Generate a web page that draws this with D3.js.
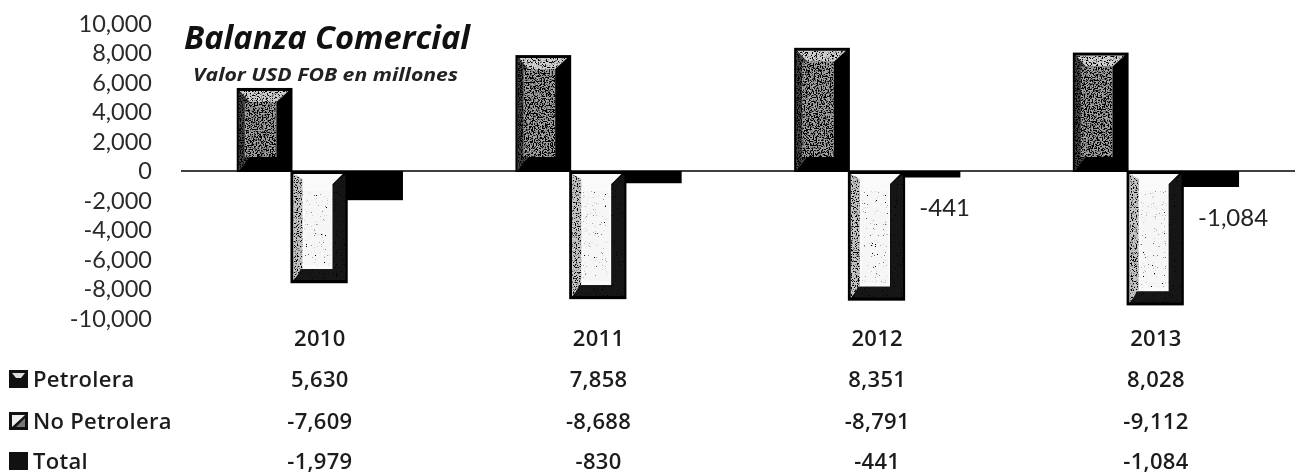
<!DOCTYPE html>
<html><head><meta charset="utf-8">
<script src="https://cdn.jsdelivr.net/npm/d3@7/dist/d3.min.js"></script>
<style>html,body{margin:0;padding:0;background:#fff}svg{display:block;filter:blur(0.35px)}text{font-family:"Open Sans",Lato,sans-serif}</style>
</head><body><svg id="c" width="1295" height="475"></svg>
<script>
const years = ["2010","2011","2012","2013"];
const petrolera = [5630,7858,8351,8028];
const noPetrolera = [-7609,-8688,-8791,-9112];
const total = [-1979,-830,-441,-1084];
const seriesNames = ["Petrolera","No Petrolera","Total"];
const yTicks = [10000,8000,6000,4000,2000,0,-2000,-4000,-6000,-8000,-10000];
const labelledYears = ["2012","2013"];

const svg = d3.select("#c");
const fmt = v => d3.format(",")(v).replace("\u2212","-");
const y = d3.scaleLinear().domain([-10000,10000]).range([318.5,23.5]);
const x0 = d3.scaleBand().domain(years).range([181,1295.8]).paddingInner(0.4).paddingOuter(0.2);
const x1 = d3.scaleBand().domain(seriesNames).range([0,x0.bandwidth()]);

const defs = svg.append("defs");
function speck(id, freq, slope, intercept){
  const f = defs.append("filter").attr("id",id).attr("x",0).attr("y",0).attr("width",1).attr("height",1);
  f.append("feTurbulence").attr("type","fractalNoise").attr("baseFrequency",freq).attr("numOctaves",2).attr("seed",4).attr("result","n");
  f.append("feColorMatrix").attr("in","n").attr("type","matrix")
   .attr("values",`0 0 0 0 0  0 0 0 0 0  0 0 0 0 0  ${slope} 0 0 0 ${intercept}`).attr("result","d");
  f.append("feComposite").attr("in","d").attr("in2","SourceAlpha").attr("operator","in").attr("result","c");
  const m = f.append("feMerge");
  m.append("feMergeNode").attr("in","SourceGraphic");
  m.append("feMergeNode").attr("in","c");
}
speck("heavy",0.75,9,-4.0);
speck("mid",0.8,9,-4.6);
speck("light",0.9,9,-6.2);

// Y axis
const ax = svg.append("g").attr("transform","translate(152,0)")
  .call(d3.axisLeft(y).tickValues(yTicks).tickFormat(fmt).tickSize(0).tickPadding(0));
ax.select(".domain").remove();
ax.selectAll("text").attr("font-size",23.5).attr("fill","#2a2a2a").style("font-family","Lato,sans-serif");

function poly(g,pts,fill,flt){
  const p = g.append("polygon").attr("points",pts.map(d=>d.join(",")).join(" ")).attr("fill",fill);
  if(flt) p.attr("filter",`url(#${flt})`);
}
const bw = x1.bandwidth();
years.forEach((yr,i)=>{
  const gx = x0(yr);
  // Petrolera
  { const g = svg.append("g");
    const l = gx+x1("Petrolera"), r = l+bw, t = y(petrolera[i]), b = y(0)+1;
    g.append("rect").attr("x",l).attr("y",t).attr("width",bw).attr("height",b-t).attr("fill","#000");
    poly(g,[[l+2,t+3],[l+13,t+14],[l+13,b-15],[l+2,b-1]],"#4a4a4a","heavy");
    poly(g,[[l+13,t+14],[r-16,t+14],[r-16,b-15],[l+8,b-15],[l+8,t+14]],"#a4a4a4","heavy");
    poly(g,[[l+3,t+3],[r-4,t+3],[r-16,t+14],[l+13,t+14]],"#cfcfcf","mid");
  }
  // No Petrolera
  { const g = svg.append("g");
    const l = gx+x1("No Petrolera")-2, r = l+bw+1.5, t = y(0), b = y(noPetrolera[i]);
    g.append("rect").attr("x",l).attr("y",t).attr("width",r-l).attr("height",b-t).attr("fill","#000");
    poly(g,[[l+3,t+3],[r-5,t+3],[r-15,t+13],[r-15,b-14],[l+10,b-14],[l+3,b-3]],"#fafafa");
    poly(g,[[l+3,t+3],[l+12,t+8],[l+12,b-14],[l+3,b-3]],"#c4c4c4","mid");
    poly(g,[[r-15,t+13],[r-2,t+3],[r-2,b-3],[l+5,b-3],[l+10,b-14],[r-15,b-14]],"#141414","light");
    poly(g,[[l+14,t+20],[r-17,t+20],[r-17,b-18],[l+14,b-18]],"#f6f6f6","light");
  }
  // Total
  { const l = gx+x1("Total")-2, r = l+bw+1, t = y(0), b = y(total[i]);
    svg.append("rect").attr("x",l).attr("y",t).attr("width",r-l).attr("height",b-t).attr("fill","#000");
  }
});

// Zero line
svg.append("line").attr("x1",x0.range()[0]).attr("x2",1295).attr("y1",y(0)).attr("y2",y(0)).attr("stroke","#000").attr("stroke-width",1.4);

// Data labels
const labelBase = {"2012":45,"2013":55};
labelledYears.forEach(yr=>{
  const i = years.indexOf(yr);
  svg.append("text").attr("x",x0(yr)+x0.bandwidth()-42).attr("y",y(0)+labelBase[yr])
    .attr("font-size",24).style("font-family","Lato,sans-serif").attr("fill","#222").text(fmt(total[i]));
});

// Title
svg.append("text").attr("x",184).attr("y",49).attr("font-size",32).attr("font-weight",700).attr("font-style","italic").attr("fill","#111")
  .attr("textLength",286).attr("lengthAdjust","spacingAndGlyphs").text("Balanza Comercial");
svg.append("text").attr("x",193).attr("y",81).attr("font-size",18).attr("font-weight",700).attr("font-style","italic").attr("fill","#222")
  .attr("textLength",265).attr("lengthAdjust","spacingAndGlyphs").text("Valor USD FOB en millones");

// Table
const rowsY = [379,421,461];
const centre = d=>x0(d)+x0.bandwidth()/2;
const tbl = (xx,yy,t,anchor)=>svg.append("text").attr("x",xx).attr("y",yy).attr("dy","0.35em")
  .attr("text-anchor",anchor||"middle").attr("font-size",22).attr("font-weight",600).attr("letter-spacing",0.3).attr("fill","#1c1c1c").text(t);
years.forEach(yr=>tbl(centre(yr)-0.5,338,yr));
[petrolera,noPetrolera,total].forEach((s,r)=>{
  years.forEach((yr,i)=>tbl(centre(yr)-0.5,rowsY[r],fmt(s[i])));
  tbl(33,rowsY[r],seriesNames[r],"start");
  const sx=9, sy=rowsY[r]-9, g=svg.append("g");
  g.append("rect").attr("x",sx).attr("y",sy).attr("width",19).attr("height",18).attr("fill","#111");
  if(r===0) poly(g,[[sx+3,sy+3],[sx+16,sy+3],[sx+12,sy+8],[sx+7,sy+8]],"#ddd");
  if(r===1){ poly(g,[[sx+3,sy+3],[sx+16,sy+3],[sx+3,sy+15]],"#eee"); poly(g,[[sx+16,sy+6],[sx+16,sy+15],[sx+7,sy+15]],"#777"); }
});
</script></body></html>
